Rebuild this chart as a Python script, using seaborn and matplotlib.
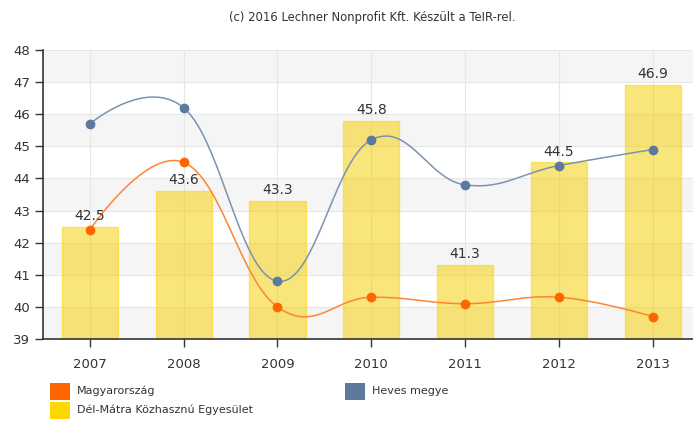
import numpy as np
import pandas as pd
import matplotlib
matplotlib.use("Agg")
import matplotlib.pyplot as plt
import seaborn as sns
from matplotlib.patches import Rectangle

years = ["2007", "2008", "2009", "2010", "2011", "2012", "2013"]
del_matra = [42.5, 43.6, 43.3, 45.8, 41.3, 44.5, 46.9]
magyarorszag = [42.4, 44.5, 40.0, 40.3, 40.1, 40.3, 39.7]
heves = [45.7, 46.2, 40.8, 45.2, 43.8, 44.4, 44.9]

series_names = ["Magyarország", "Heves megye", "Dél-Mátra Közhasznú Egyesület"]
series_colors = ["#FF6600", "#5C7A9E", "#FFD700"]


def spline_path(ys, smoothing=1.5, n=40):
    # Highcharts-like spline through the data points (no capping)
    xs = np.arange(len(ys), dtype=float)
    ys = np.asarray(ys, dtype=float)
    left, right = [], []
    for i in range(len(ys)):
        if i == 0 or i == len(ys) - 1:
            left.append((xs[i], ys[i]))
            right.append((xs[i], ys[i]))
            continue
        d = smoothing + 1
        lx = (smoothing * xs[i] + xs[i - 1]) / d
        ly = (smoothing * ys[i] + ys[i - 1]) / d
        rx = (smoothing * xs[i] + xs[i + 1]) / d
        ry = (smoothing * ys[i] + ys[i + 1]) / d
        corr = (ry - ly) * (rx - xs[i]) / (rx - lx) + ys[i] - ry
        left.append((lx, ly + corr))
        right.append((rx, ry + corr))
    px, py = [], []
    t = np.linspace(0, 1, n)
    for i in range(1, len(ys)):
        p0 = np.array([xs[i - 1], ys[i - 1]])
        p1 = np.array(right[i - 1])
        p2 = np.array(left[i])
        p3 = np.array([xs[i], ys[i]])
        pts = ((1 - t) ** 3)[:, None] * p0 + (3 * (1 - t) ** 2 * t)[:, None] * p1 \
            + (3 * (1 - t) * t ** 2)[:, None] * p2 + (t ** 3)[:, None] * p3
        px.extend(pts[:, 0]); py.extend(pts[:, 1])
    return np.array(px), np.array(py)


sns.set_style("white")
plt.rcParams["font.family"] = ["DejaVu Sans"]

fig = plt.figure(figsize=(6.93, 4.21), dpi=100)
ax = fig.add_axes([43 / 693, 1 - 339 / 421, 1 - 43 / 693, (339 - 50) / 421])

# alternating background bands
for lo in range(39, 48):
    if (lo - 39) % 2 == 0:
        ax.axhspan(lo, lo + 1, color="#F5F5F5", zorder=0, lw=0)

df = pd.DataFrame({"year": years, "value": del_matra})
sns.barplot(data=df, x="year", y="value", color="#F5D000", width=0.6, saturation=1,
            linewidth=1.0, alpha=0.52, ax=ax, zorder=2)
for p in ax.patches:
    p.set_edgecolor((1.0, 0.82, 0.0, 1.0))

for i, v in enumerate(del_matra):
    ax.text(i, v + 0.12, f"{v:.1f}", ha="center", va="bottom", fontsize=10,
            color="#333333", zorder=5)

for vals, col, lcol in [(magyarorszag, "#FF6600", "#FF8533"), (heves, "#5C7A9E", "#7C93B0")]:
    sx, sy = spline_path(vals)
    ax.plot(sx, sy, color=lcol, lw=1.1, zorder=3)
    ax.plot(range(len(vals)), vals, "o", color=col, ms=6, zorder=4, mec=col)

ax.set_ylim(39, 48)
ax.set_xlim(-0.5, 6.43)
ax.set_yticks(range(39, 49))
ax.grid(True, color="#E6E6E6", lw=0.8, zorder=1)
ax.set_axisbelow(True)
ax.set_xlabel("")
ax.set_ylabel("")
for s in ["top", "right"]:
    ax.spines[s].set_visible(False)
for s in ["left", "bottom"]:
    ax.spines[s].set_color("#333333")
    ax.spines[s].set_linewidth(1.2)
ax.tick_params(axis="both", length=6, width=1, color="#333333", labelcolor="#333333",
               labelsize=9.5, left=True, bottom=True)
ax.tick_params(axis="x", pad=8)

fig.text(372 / 693, 1 - 18 / 421, "(c) 2016 Lechner Nonprofit Kft. Készült a TeIR-rel.",
         ha="center", va="center", fontsize=8.4, color="#333333")

# legend
legend_pos = [(50, 391), (345, 391), (50, 410)]
for (lx, ly), name, col in zip(legend_pos, series_names, series_colors):
    fig.add_artist(Rectangle((lx / 693, 1 - (ly + 8.5) / 421), 20 / 693, 17 / 421,
                             transform=fig.transFigure, facecolor=col, edgecolor="none"))
    fig.text((lx + 27) / 693, 1 - ly / 421, name, ha="left", va="center",
             fontsize=8, color="#333333")

fig.savefig("out.png", dpi=100)
